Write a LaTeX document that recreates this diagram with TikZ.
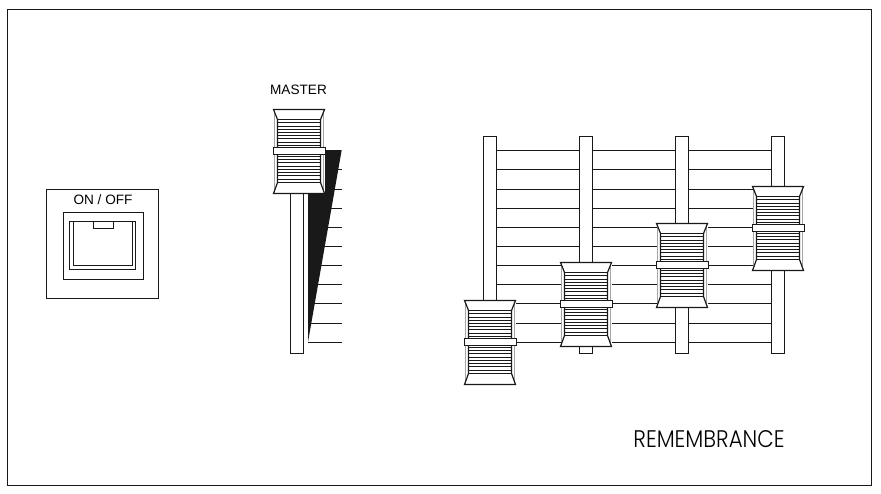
\documentclass[tikz,border=0pt]{standalone}
\usepackage{fontspec}
\setmainfont{Liberation Sans}
\newfontfamily\handfont{Poppins Light}
\tikzstyle{panel} = [line width=0.8pt, black!90]
\tikzstyle{track} = [line width=0.9pt, black!90, fill=white]
\tikzstyle{scale line} = [line width=0.9pt, black!90]
\tikzstyle{knob} = [line width=0.9pt, black!90, fill=white]
\tikzstyle{groove} = [line width=0.8pt, black!90]
\tikzstyle{caption} = [inner sep=0pt, font=\fontsize{10.2}{12}\selectfont, text=black]

% one fader cap, #1 and #2 give its top left corner
\newcommand{\faderknob}[2]{
	\begin{scope}[shift={(#1,#2)}]
		\fill[white] (0,0) rectangle (51,84);
		\draw[line width=0.8pt, black!35] (1,2) -- (1,82);
		\draw[line width=0.8pt, black!35] (50,2) -- (50,82);
		\draw[knob, fill=none] (0,0) -- (51,0) -- (47,10) -- (47,73) -- (51,84)
			-- (0,84) -- (4,73) -- (4,10) -- cycle;
		\foreach \k in {0,...,8} {
			\draw[groove] (4,10.2+3.2*\k) -- (47,10.2+3.2*\k);
			\draw[groove] (4,46.8+3.25*\k) -- (47,46.8+3.25*\k);
		}
		\draw[knob] (0,38) rectangle (52,45);
	\end{scope}
}

\begin{document}
\begin{tikzpicture}[x=0.75pt,y=-0.75pt]
	\useasboundingbox (0,0) rectangle (881,493);
	\draw[panel] (7.5,9.5) rectangle (871.5,485.5);

	% on / off switch
	\draw[panel] (46.5,189.5) rectangle (158.5,298.5);
	\node[caption] (onoff) at (103,200) {ON / OFF};
	\draw[panel] (63.5,212.5) rectangle (143.5,279.5);
	\draw[panel] (69.5,221.5) rectangle (135.5,269.5);
	\draw[panel] (73.5,221.5) rectangle (132.5,265.5);
	\draw[panel] (93.5,221.5) rectangle (113.5,228.5);

	% master fader
	\node[caption] (master) at (298.5,90) {MASTER};
	\foreach \i in {169.5,189.5,208.5,227.5,246.5,265.5,284.5,303.5,323.5,342.5} {
		\draw[scale line] (308,\i) -- (341.7,\i);
	}
	\fill[black!90] (308,150) -- (341.7,150) -- (308,342) -- cycle;
	\draw[track] (290.5,190) rectangle (303.5,353.5);
	\faderknob{273.5}{109.5}

	% group of four faders
	\foreach \i in {150.5,169.5,189.5,208.5,227.5,246.5,265.5,284.5,303.5,323.5,342.5} {
		\draw[scale line] (496.5,\i) -- (771.5,\i);
	}
	\foreach \t in {483.5,579.5,675.5,771.5} {
		\draw[track] (\t,136.5) rectangle (\t+13,353.5);
	}
	\faderknob{464.5}{300.5}
	\faderknob{560.5}{262.5}
	\faderknob{656.5}{223.5}
	\faderknob{752.5}{186.5}

	\node[inner sep=0pt, text=black, font=\handfont\fontsize{18}{20}\selectfont, xscale=0.89, transform shape] (remembrance) at (709,439.5) {REMEMBRANCE};
\end{tikzpicture}
\end{document}
